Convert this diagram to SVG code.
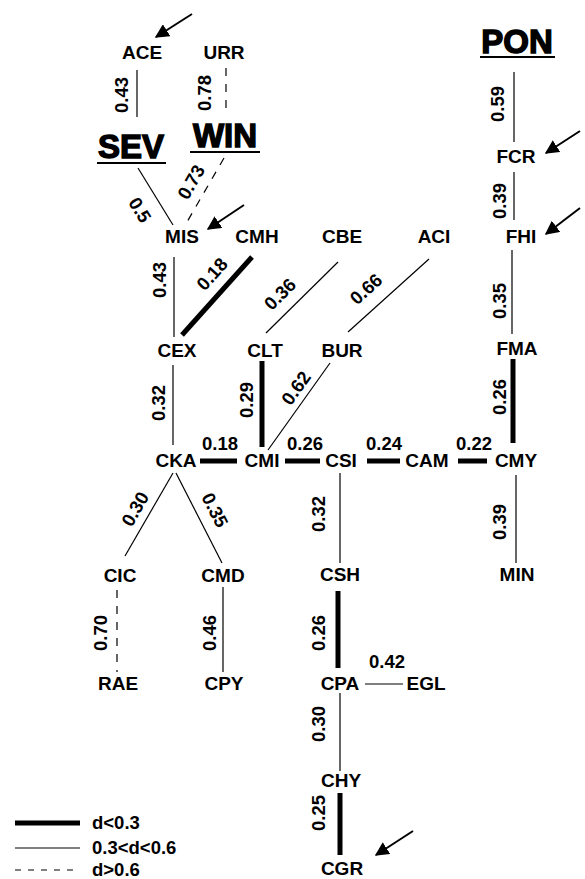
<svg xmlns="http://www.w3.org/2000/svg" width="585" height="879" viewBox="0 0 585 879">
<defs>
<style>
.n{font-family:"Liberation Sans",Arial,sans-serif;font-weight:bold;font-size:19px;text-anchor:middle;fill:#000}
.l{font-family:"Liberation Sans",Arial,sans-serif;font-weight:bold;font-size:18.5px;text-anchor:middle;fill:#000}
.t{font-family:"Liberation Sans",Arial,sans-serif;font-weight:bold;font-size:33px;text-anchor:middle;fill:#000;stroke:#000;stroke-width:1.4}
.lg{font-family:"Liberation Sans",Arial,sans-serif;font-weight:bold;font-size:18.5px;fill:#000}
.thin{stroke:#000;stroke-width:1.2;fill:none}
.thick{stroke:#000;stroke-width:5;fill:none}
.dash{stroke:#000;stroke-width:1.2;fill:none;stroke-dasharray:8,8}
.ul{stroke:#000;stroke-width:2}
.arr{stroke:#000;stroke-width:2;fill:none;marker-end:url(#ah)}
</style>
<marker id="ah" viewBox="0 0 10 10" refX="9" refY="5" markerWidth="7" markerHeight="7" orient="auto" markerUnits="strokeWidth">
<path d="M0,0 L10,5 L0,10 z" fill="#000"/>
</marker>
</defs>
<rect width="585" height="879" fill="#fff"/>

<g id="titles">
<text class="t" x="131" y="158">SEV</text><line class="ul" x1="97" y1="163" x2="166" y2="163"/>
<text class="t" x="225" y="147">WIN</text><line class="ul" x1="190" y1="152" x2="260" y2="152"/>
<text class="t" x="517" y="53">PON</text><line class="ul" x1="480" y1="57" x2="555" y2="57"/>
</g>

<g id="connectors">
<line class="thin" x1="137" y1="70" x2="137" y2="117"/>
<line class="dash" x1="226" y1="68" x2="226" y2="114"/>
<line class="thin" x1="138" y1="168" x2="173" y2="225"/>
<line class="dash" x1="224" y1="158" x2="187" y2="222"/>
<line class="thin" x1="174" y1="257" x2="174" y2="337"/>
<line class="thick" x1="252" y1="257" x2="182" y2="335"/>
<line class="thin" x1="338" y1="262" x2="266" y2="333"/>
<line class="thin" x1="429" y1="259" x2="348" y2="332"/>
<line class="thin" x1="514" y1="72" x2="514" y2="142"/>
<line class="thin" x1="514" y1="172" x2="514" y2="220"/>
<line class="thin" x1="512" y1="250" x2="512" y2="334"/>
<line class="thick" x1="513" y1="359" x2="513" y2="443"/>
<line class="thin" x1="516" y1="475" x2="516" y2="563"/>
<line class="thin" x1="173" y1="365" x2="173" y2="445"/>
<line class="thick" x1="262" y1="361" x2="262" y2="447"/>
<line class="thin" x1="330" y1="363" x2="268" y2="450"/>
<line class="thick" x1="200" y1="461" x2="237" y2="461"/>
<line class="thick" x1="285" y1="461" x2="320" y2="461"/>
<line class="thick" x1="367" y1="461" x2="400" y2="461"/>
<line class="thick" x1="458" y1="461" x2="487" y2="461"/>
<line class="thin" x1="173" y1="473" x2="125" y2="556"/>
<line class="thin" x1="176" y1="473" x2="222" y2="563"/>
<line class="dash" x1="117" y1="590" x2="117" y2="672"/>
<line class="thin" x1="223" y1="587" x2="223" y2="672"/>
<line class="thin" x1="340" y1="473" x2="340" y2="563"/>
<line class="thick" x1="338" y1="591" x2="338" y2="668"/>
<line class="thin" x1="365" y1="684" x2="403" y2="684"/>
<line class="thin" x1="340" y1="693" x2="340" y2="771"/>
<line class="thick" x1="340" y1="793" x2="340" y2="855"/>
<line class="arr" x1="192" y1="14" x2="156" y2="37"/>
<line class="arr" x1="244" y1="205" x2="208" y2="229"/>
<line class="arr" x1="580" y1="131" x2="546" y2="153"/>
<line class="arr" x1="580" y1="208" x2="546" y2="234"/>
<line class="arr" x1="413" y1="831" x2="376" y2="855"/>
</g>

<g id="labels">
<g transform="translate(121,95) rotate(-90)"><text class="l" y="6.5">0.43</text></g>
<g transform="translate(204,93) rotate(-90)"><text class="l" y="6.5">0.78</text></g>
<g transform="translate(140,210) rotate(58)"><text class="l" y="6.5">0.5</text></g>
<g transform="translate(191,182) rotate(-60)"><text class="l" y="6.5">0.73</text></g>
<g transform="translate(159,280) rotate(-90)"><text class="l" y="6.5">0.43</text></g>
<g transform="translate(212,274) rotate(-48)"><text class="l" y="6.5">0.18</text></g>
<g transform="translate(280,294) rotate(-45)"><text class="l" y="6.5">0.36</text></g>
<g transform="translate(366,289) rotate(-42)"><text class="l" y="6.5">0.66</text></g>
<g transform="translate(497,104) rotate(-90)"><text class="l" y="6.5">0.59</text></g>
<g transform="translate(499,201) rotate(-90)"><text class="l" y="6.5">0.39</text></g>
<g transform="translate(499,301) rotate(-90)"><text class="l" y="6.5">0.35</text></g>
<g transform="translate(499,397) rotate(-90)"><text class="l" y="6.5">0.26</text></g>
<g transform="translate(499,522) rotate(-90)"><text class="l" y="6.5">0.39</text></g>
<g transform="translate(158,403) rotate(-90)"><text class="l" y="6.5">0.32</text></g>
<g transform="translate(246,400) rotate(-90)"><text class="l" y="6.5">0.29</text></g>
<g transform="translate(296,388) rotate(-54.5)"><text class="l" y="6.5">0.62</text></g>
<text class="l" x="220" y="450">0.18</text>
<text class="l" x="305" y="450">0.26</text>
<text class="l" x="384" y="450">0.24</text>
<text class="l" x="474" y="450">0.22</text>
<g transform="translate(135,509) rotate(-60)"><text class="l" y="6.5">0.30</text></g>
<g transform="translate(215,510) rotate(63)"><text class="l" y="6.5">0.35</text></g>
<g transform="translate(100,633) rotate(-90)"><text class="l" y="6.5">0.70</text></g>
<g transform="translate(209,633) rotate(-90)"><text class="l" y="6.5">0.46</text></g>
<g transform="translate(318,514) rotate(-90)"><text class="l" y="6.5">0.32</text></g>
<g transform="translate(318,633) rotate(-90)"><text class="l" y="6.5">0.26</text></g>
<text class="l" x="387" y="668">0.42</text>
<g transform="translate(318,724) rotate(-90)"><text class="l" y="6.5">0.30</text></g>
<g transform="translate(318,813) rotate(-90)"><text class="l" y="6.5">0.25</text></g>
</g>

<g id="ACE"><text class="n" x="142" y="59">ACE</text></g>
<g id="URR"><text class="n" x="224" y="59">URR</text></g>
<g id="MIS"><text class="n" x="182" y="243">MIS</text></g>
<g id="CMH"><text class="n" x="257" y="243">CMH</text></g>
<g id="CBE"><text class="n" x="342" y="243">CBE</text></g>
<g id="ACI"><text class="n" x="434" y="243">ACI</text></g>
<g id="FCR"><text class="n" x="516" y="163">FCR</text></g>
<g id="FHI"><text class="n" x="521" y="243">FHI</text></g>
<g id="CEX"><text class="n" x="177" y="357">CEX</text></g>
<g id="CLT"><text class="n" x="265" y="357">CLT</text></g>
<g id="BUR"><text class="n" x="342" y="357">BUR</text></g>
<g id="FMA"><text class="n" x="517" y="355">FMA</text></g>
<g id="CKA"><text class="n" x="176" y="467">CKA</text></g>
<g id="CMI"><text class="n" x="262" y="467">CMI</text></g>
<g id="CSI"><text class="n" x="341" y="467">CSI</text></g>
<g id="CAM"><text class="n" x="427" y="467">CAM</text></g>
<g id="CMY"><text class="n" x="516" y="467">CMY</text></g>
<g id="CIC"><text class="n" x="120" y="582">CIC</text></g>
<g id="CMD"><text class="n" x="223" y="582">CMD</text></g>
<g id="CSH"><text class="n" x="340" y="581">CSH</text></g>
<g id="MIN"><text class="n" x="517" y="581">MIN</text></g>
<g id="RAE"><text class="n" x="118" y="690">RAE</text></g>
<g id="CPY"><text class="n" x="224" y="690">CPY</text></g>
<g id="CPA"><text class="n" x="340" y="690">CPA</text></g>
<g id="EGL"><text class="n" x="426" y="690">EGL</text></g>
<g id="CHY"><text class="n" x="341" y="787">CHY</text></g>
<g id="CGR"><text class="n" x="342" y="875">CGR</text></g>

<g id="legend">
<line class="thick" x1="15" y1="823" x2="80" y2="823"/>
<text class="lg" x="92" y="829">d&lt;0.3</text>
<line class="thin" x1="15" y1="848" x2="80" y2="848"/>
<text class="lg" x="92" y="854">0.3&lt;d&lt;0.6</text>
<line class="dash" x1="15" y1="870" x2="80" y2="870" style="stroke-dasharray:6,7"/>
<text class="lg" x="92" y="876">d&gt;0.6</text>
</g>
</svg>
